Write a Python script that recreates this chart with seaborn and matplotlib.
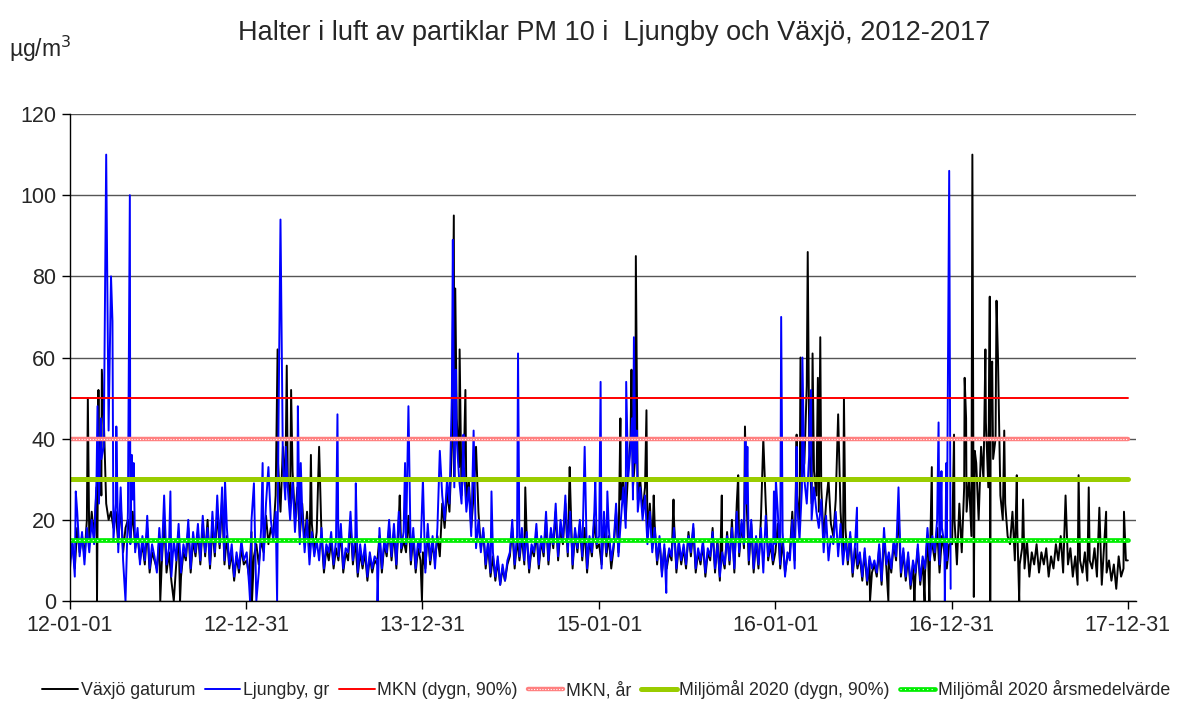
import pandas as pd
import matplotlib
matplotlib.use("Agg")
import matplotlib.pyplot as plt
import matplotlib.dates as mdates
import seaborn as sns

# 5-day readings per year (Växjö gaturum)
vaxjo_2012 = [10, 14, 8, 18, 12, 16, 11, 20, 14, 22, 16, 28, 30, 26, 35, 24, 20, 22,
              18, 22, 14, 24, 12, 18, 20, 15, 22, 13, 16, 10, 14, 9, 18, 7, 12, 10,
              8, 15, 9, 20, 7, 12, 5, 13, 9, 17, 6, 12, 10, 18, 7, 15, 11, 17,
              9, 19, 11, 20, 8, 18, 11, 22, 13, 25, 9, 16, 8, 12, 5, 11, 7, 13, 9]
vaxjo_2013 = [10, 6, 17, 11, 14, 9, 15, 12, 21, 14, 18, 16, 26, 34, 22, 38, 28, 30,
              24, 32, 20, 28, 16, 24, 14, 22, 11, 19, 12, 17, 9, 16, 7, 13, 10, 15,
              8, 13, 10, 17, 7, 12, 10, 19, 9, 15, 6, 12, 8, 12, 5, 11, 7, 10,
              9, 16, 7, 14, 11, 18, 10, 17, 8, 20, 12, 15, 12, 21, 9, 16, 7, 13, 10]
vaxjo_2014 = [12, 8, 17, 9, 14, 10, 16, 11, 24, 18, 27, 22, 38, 30, 45, 33, 26, 36,
              24, 30, 18, 26, 14, 22, 13, 17, 8, 14, 6, 11, 5, 10, 4, 8, 5, 9,
              11, 18, 8, 15, 10, 16, 9, 16, 7, 13, 11, 17, 8, 15, 11, 20, 9, 17,
              13, 22, 10, 18, 14, 24, 11, 28, 8, 17, 12, 19, 10, 18, 7, 15, 11, 20, 13]
vaxjo_2015 = [14, 9, 19, 11, 16, 8, 13, 22, 12, 25, 30, 20, 32, 40, 28, 36, 25, 30,
              22, 28, 16, 24, 13, 19, 9, 15, 7, 13, 8, 12, 10, 20, 7, 14, 9, 13,
              8, 17, 11, 18, 7, 12, 9, 14, 6, 12, 10, 18, 7, 15, 5, 11, 8, 17,
              9, 20, 7, 24, 11, 19, 13, 26, 9, 19, 7, 15, 8, 20, 6, 24, 10, 14, 9]
vaxjo_2016 = [12, 19, 8, 15, 7, 11, 12, 22, 10, 26, 18, 30, 34, 28, 40, 24, 32, 26,
              22, 28, 15, 24, 12, 19, 16, 25, 13, 22, 11, 18, 9, 16, 6, 13, 8, 11,
              5, 12, 4, 10, 7, 9, 6, 13, 4, 16, 8, 11, 7, 14, 10, 22, 6, 12,
              5, 11, 3, 9, 6, 13, 4, 10, 7, 16, 9, 14, 10, 18, 7, 16, 12, 8, 14]
vaxjo_2017 = [14, 20, 9, 24, 12, 28, 22, 30, 16, 26, 34, 20, 38, 30, 44, 28, 48, 35,
              40, 30, 26, 20, 24, 16, 14, 22, 10, 18, 9, 13, 8, 15, 6, 12, 9, 14,
              7, 12, 9, 13, 6, 11, 8, 14, 10, 16, 7, 12, 9, 13, 6, 11, 4, 10,
              7, 12, 5, 10, 8, 13, 6, 11, 4, 14, 7, 10, 5, 9, 3, 11, 6, 8, 10]

# Ljungby, gr (ends 2016-12-31)
ljungby_2012 = [8, 15, 6, 22, 11, 17, 9, 18, 12, 20, 14, 30, 24, 35, 22, 30, 18, 26,
                15, 24, 12, 28, 10, 20, 22, 14, 25, 12, 18, 9, 16, 10, 21, 8, 14, 11,
                7, 18, 10, 26, 9, 13, 6, 15, 10, 19, 7, 14, 11, 20, 8, 17, 12, 19,
                10, 21, 12, 18, 9, 22, 12, 26, 14, 28, 10, 18, 9, 14, 6, 12, 8, 15, 10]
ljungby_2013 = [12, 4, 20, 9, 16, 7, 18, 10, 24, 13, 20, 15, 22, 30, 18, 34, 25, 28,
                20, 30, 17, 26, 14, 22, 12, 20, 9, 17, 11, 15, 10, 18, 8, 14, 12, 17,
                9, 15, 11, 19, 8, 13, 12, 22, 10, 16, 7, 14, 9, 14, 6, 12, 8, 11,
                10, 18, 8, 15, 12, 20, 11, 19, 9, 22, 13, 17, 14, 24, 10, 18, 8, 15, 12]
ljungby_2014 = [14, 7, 19, 10, 16, 8, 18, 12, 26, 20, 30, 24, 35, 28, 40, 30, 24, 33,
                22, 28, 16, 24, 13, 20, 12, 18, 9, 15, 7, 12, 6, 11, 4, 9, 5, 10,
                12, 20, 9, 16, 11, 18, 10, 17, 8, 14, 12, 19, 9, 16, 12, 22, 10, 18,
                14, 24, 11, 20, 15, 26, 12, 22, 9, 18, 13, 20, 11, 19, 8, 16, 12, 22, 14]
ljungby_2015 = [16, 8, 22, 12, 18, 10, 14, 24, 11, 20, 28, 18, 30, 38, 25, 34, 22, 28,
                20, 26, 14, 22, 12, 18, 10, 16, 6, 14, 9, 13, 11, 18, 8, 15, 10, 14,
                9, 16, 12, 19, 8, 13, 10, 15, 7, 13, 11, 17, 8, 14, 6, 12, 9, 16,
                10, 18, 8, 22, 12, 20, 14, 24, 10, 20, 8, 16, 9, 18, 7, 21, 11, 15, 10]
ljungby_2016 = [14, 22, 9, 17, 6, 12, 10, 20, 8, 24, 15, 28, 30, 24, 36, 20, 28, 22,
                18, 25, 12, 21, 10, 16, 14, 22, 11, 19, 9, 15, 10, 17, 7, 14, 9, 12,
                6, 13, 5, 11, 8, 10, 7, 14, 5, 18, 9, 12, 8, 15, 11, 20, 7, 13,
                6, 12, 4, 10, 7, 14, 5, 11, 8, 18, 10, 16, 12, 20, 9, 18, 14, 10, 16]

# single-day peaks and dips
vaxjo_peak_dates = ["2012-02-07", "2012-02-26", "2012-02-29", "2012-03-03", "2012-03-07",
                    "2012-03-11", "2012-07-06", "2012-08-03", "2012-08-16",
                    "2013-01-12", "2013-03-06", "2013-03-25", "2013-04-03", "2013-05-14",
                    "2013-05-31", "2013-11-14", "2013-12-30",
                    "2014-03-06", "2014-03-09", "2014-03-18", "2014-03-30", "2014-04-21",
                    "2014-08-01", "2014-11-01",
                    "2015-02-14", "2015-03-09", "2015-03-18", "2015-04-09", "2015-04-24",
                    "2015-06-04", "2015-09-12", "2015-10-16", "2015-10-30", "2015-12-07",
                    "2016-02-14", "2016-02-22", "2016-03-06", "2016-03-08", "2016-03-18",
                    "2016-03-29", "2016-04-03", "2016-04-20", "2016-05-10", "2016-05-22",
                    "2016-07-15", "2016-08-22", "2016-10-15", "2016-11-05", "2016-11-15",
                    "2016-11-20",
                    "2017-01-05", "2017-01-27", "2017-01-30", "2017-02-12", "2017-02-15",
                    "2017-02-17", "2017-03-11", "2017-03-20", "2017-03-21", "2017-03-25",
                    "2017-04-03", "2017-04-06", "2017-04-19", "2017-05-15", "2017-05-20",
                    "2017-05-28", "2017-08-24", "2017-09-20", "2017-10-11", "2017-11-02",
                    "2017-11-16", "2017-12-23", "2017-12-31"]
vaxjo_peak_values = [50, 0, 52, 40, 57,
                     45, 0, 0, 0,
                     0, 62, 58, 52, 36,
                     38, 26, 0,
                     95, 77, 62, 52, 38,
                     28, 33,
                     45, 57, 85, 47, 26,
                     25, 26, 31, 43, 40,
                     41, 60, 53, 86, 61,
                     55, 65, 30, 46, 50,
                     0, 0, 0, 0, 0,
                     33,
                     41, 55, 45, 110, 1,
                     37, 62, 75, 0, 59,
                     74, 60, 42, 31, 0,
                     25, 26, 31, 28, 23,
                     22, 22, 10]

ljungby_peak_dates = ["2012-01-13", "2012-02-27", "2012-03-05", "2012-03-11", "2012-03-16",
                      "2012-03-21", "2012-03-26", "2012-03-29", "2012-04-06", "2012-04-25",
                      "2012-05-04", "2012-05-08", "2012-05-12", "2012-07-27", "2012-11-17",
                      "2013-01-08", "2013-01-16", "2013-01-21", "2013-02-03", "2013-02-15",
                      "2013-03-05", "2013-03-08", "2013-03-12", "2013-03-23", "2013-04-17",
                      "2013-04-23", "2013-07-08", "2013-08-15", "2013-09-29", "2013-11-25",
                      "2013-12-02",
                      "2014-01-01", "2014-02-05", "2014-03-02", "2014-03-04", "2014-03-10",
                      "2014-03-26", "2014-04-16", "2014-05-23", "2014-07-17", "2014-12-02",
                      "2014-12-24",
                      "2015-01-04", "2015-01-18", "2015-02-26", "2015-03-10", "2015-03-14",
                      "2015-03-20", "2015-05-20", "2015-10-31", "2015-11-04", "2015-12-29",
                      "2016-01-02", "2016-01-13", "2016-02-14", "2016-02-26", "2016-03-12",
                      "2016-03-15", "2016-06-18", "2016-09-12", "2016-12-04", "2016-12-10",
                      "2016-12-17", "2016-12-20", "2016-12-26", "2016-12-29"]
ljungby_peak_values = [27, 48, 45, 38, 110,
                       42, 80, 69, 43, 0,
                       100, 36, 34, 27, 30,
                       0, 29, 0, 34, 33,
                       0, 45, 94, 38, 48,
                       34, 46, 29, 0, 34,
                       48,
                       30, 37, 51, 89, 57,
                       41, 42, 27, 61, 38,
                       30,
                       54, 27, 54, 45, 65,
                       42, 2, 40, 38, 27,
                       30, 70, 38, 60, 45,
                       52, 23, 28, 44, 32,
                       0, 34, 106, 3]

limit_labels = ["MKN (dygn, 90%)", "MKN, år", "Miljömål 2020 (dygn, 90%)",
                "Miljömål 2020 årsmedelvärde"]
limit_values = [50, 40, 30, 15]
tick_dates = ["2012-01-01", "2012-12-31", "2013-12-31", "2015-01-01",
              "2016-01-01", "2016-12-31", "2017-12-31"]


def build_series(yearly, peak_dates, peak_values):
    parts = []
    for year, vals in yearly.items():
        idx = pd.date_range(f"{year}-01-01", periods=len(vals), freq="5D")
        parts.append(pd.Series(vals, index=idx, dtype=float))
    parts.append(pd.Series(peak_values, index=pd.to_datetime(peak_dates), dtype=float))
    s = pd.concat(parts)
    s = s[~s.index.duplicated(keep="last")].sort_index()
    return s


vaxjo = build_series({2012: vaxjo_2012, 2013: vaxjo_2013, 2014: vaxjo_2014,
                      2015: vaxjo_2015, 2016: vaxjo_2016, 2017: vaxjo_2017},
                     vaxjo_peak_dates, vaxjo_peak_values)
ljungby = build_series({2012: ljungby_2012, 2013: ljungby_2013, 2014: ljungby_2014,
                        2015: ljungby_2015, 2016: ljungby_2016},
                       ljungby_peak_dates, ljungby_peak_values)

sns.set_style("white")
plt.rcParams["font.family"] = ["Liberation Sans", "DejaVu Sans"]

fig = plt.figure(figsize=(11.84, 7.24), dpi=100)
ax = fig.add_axes([0.0591, 0.1699, 0.9004, 0.6726])

sns.lineplot(x=vaxjo.index, y=vaxjo.values, ax=ax, color="black", linewidth=1.4,
             estimator=None, label="Växjö gaturum")
sns.lineplot(x=ljungby.index, y=ljungby.values, ax=ax, color="#0000ff", linewidth=1.4,
             estimator=None, label="Ljungby, gr")

span = pd.to_datetime(["2012-01-01", "2017-12-31"])
h_mkn, = ax.plot(span, [limit_values[0]] * 2, color="#ff0000", lw=1.4)
h_ar_a, = ax.plot(span, [limit_values[1]] * 2, color="#ff8080", lw=3.2)
h_ar_b, = ax.plot(span, [limit_values[1]] * 2, color="white", lw=0.8, ls=(0, (1, 1.5)))
h_mm, = ax.plot(span, [limit_values[2]] * 2, color="#99cc00", lw=3.6)
h_mma_a, = ax.plot(span, [limit_values[3]] * 2, color="#00ee00", lw=3.4)
h_mma_b, = ax.plot(span, [limit_values[3]] * 2, color="white", lw=0.8, ls=(0, (1, 3)))

ax.set_ylim(0, 120)
ax.set_xlim(pd.Timestamp("2012-01-01"), pd.Timestamp("2018-01-17"))
ax.set_yticks(range(0, 121, 20))
ax.set_xticks(pd.to_datetime(tick_dates))
ax.xaxis.set_major_formatter(mdates.DateFormatter("%y-%m-%d"))
ax.set_xlabel("")
ax.set_ylabel("")
ax.tick_params(axis="both", labelsize=15.5, direction="out", length=6, width=1,
               color="black", pad=4, bottom=True, left=True)
ax.yaxis.grid(True, color="#555555", lw=1)
for side in ["top", "right"]:
    ax.spines[side].set_visible(False)
for side in ["left", "bottom"]:
    ax.spines[side].set_color("black")
    ax.spines[side].set_linewidth(1)

ax.get_legend().remove()
handles = [ax.lines[0], ax.lines[1], h_mkn, (h_ar_a, h_ar_b), h_mm, (h_mma_a, h_mma_b)]
labels = ["Växjö gaturum", "Ljungby, gr"] + limit_labels
fig.legend(handles, labels, loc="center", bbox_to_anchor=(0.512, 0.047), ncol=6,
           frameon=False, fontsize=12.8, handlelength=2.0, handletextpad=0.15,
           columnspacing=0.55)

fig.text(0.519, 0.955, "Halter i luft av partiklar PM 10 i  Ljungby och Växjö, 2012-2017",
         ha="center", va="center", fontsize=19.5)
fig.text(0.008, 0.932, "µg/m$^3$", ha="left", va="center", fontsize=16.5)

fig.savefig("out.png", dpi=100)
